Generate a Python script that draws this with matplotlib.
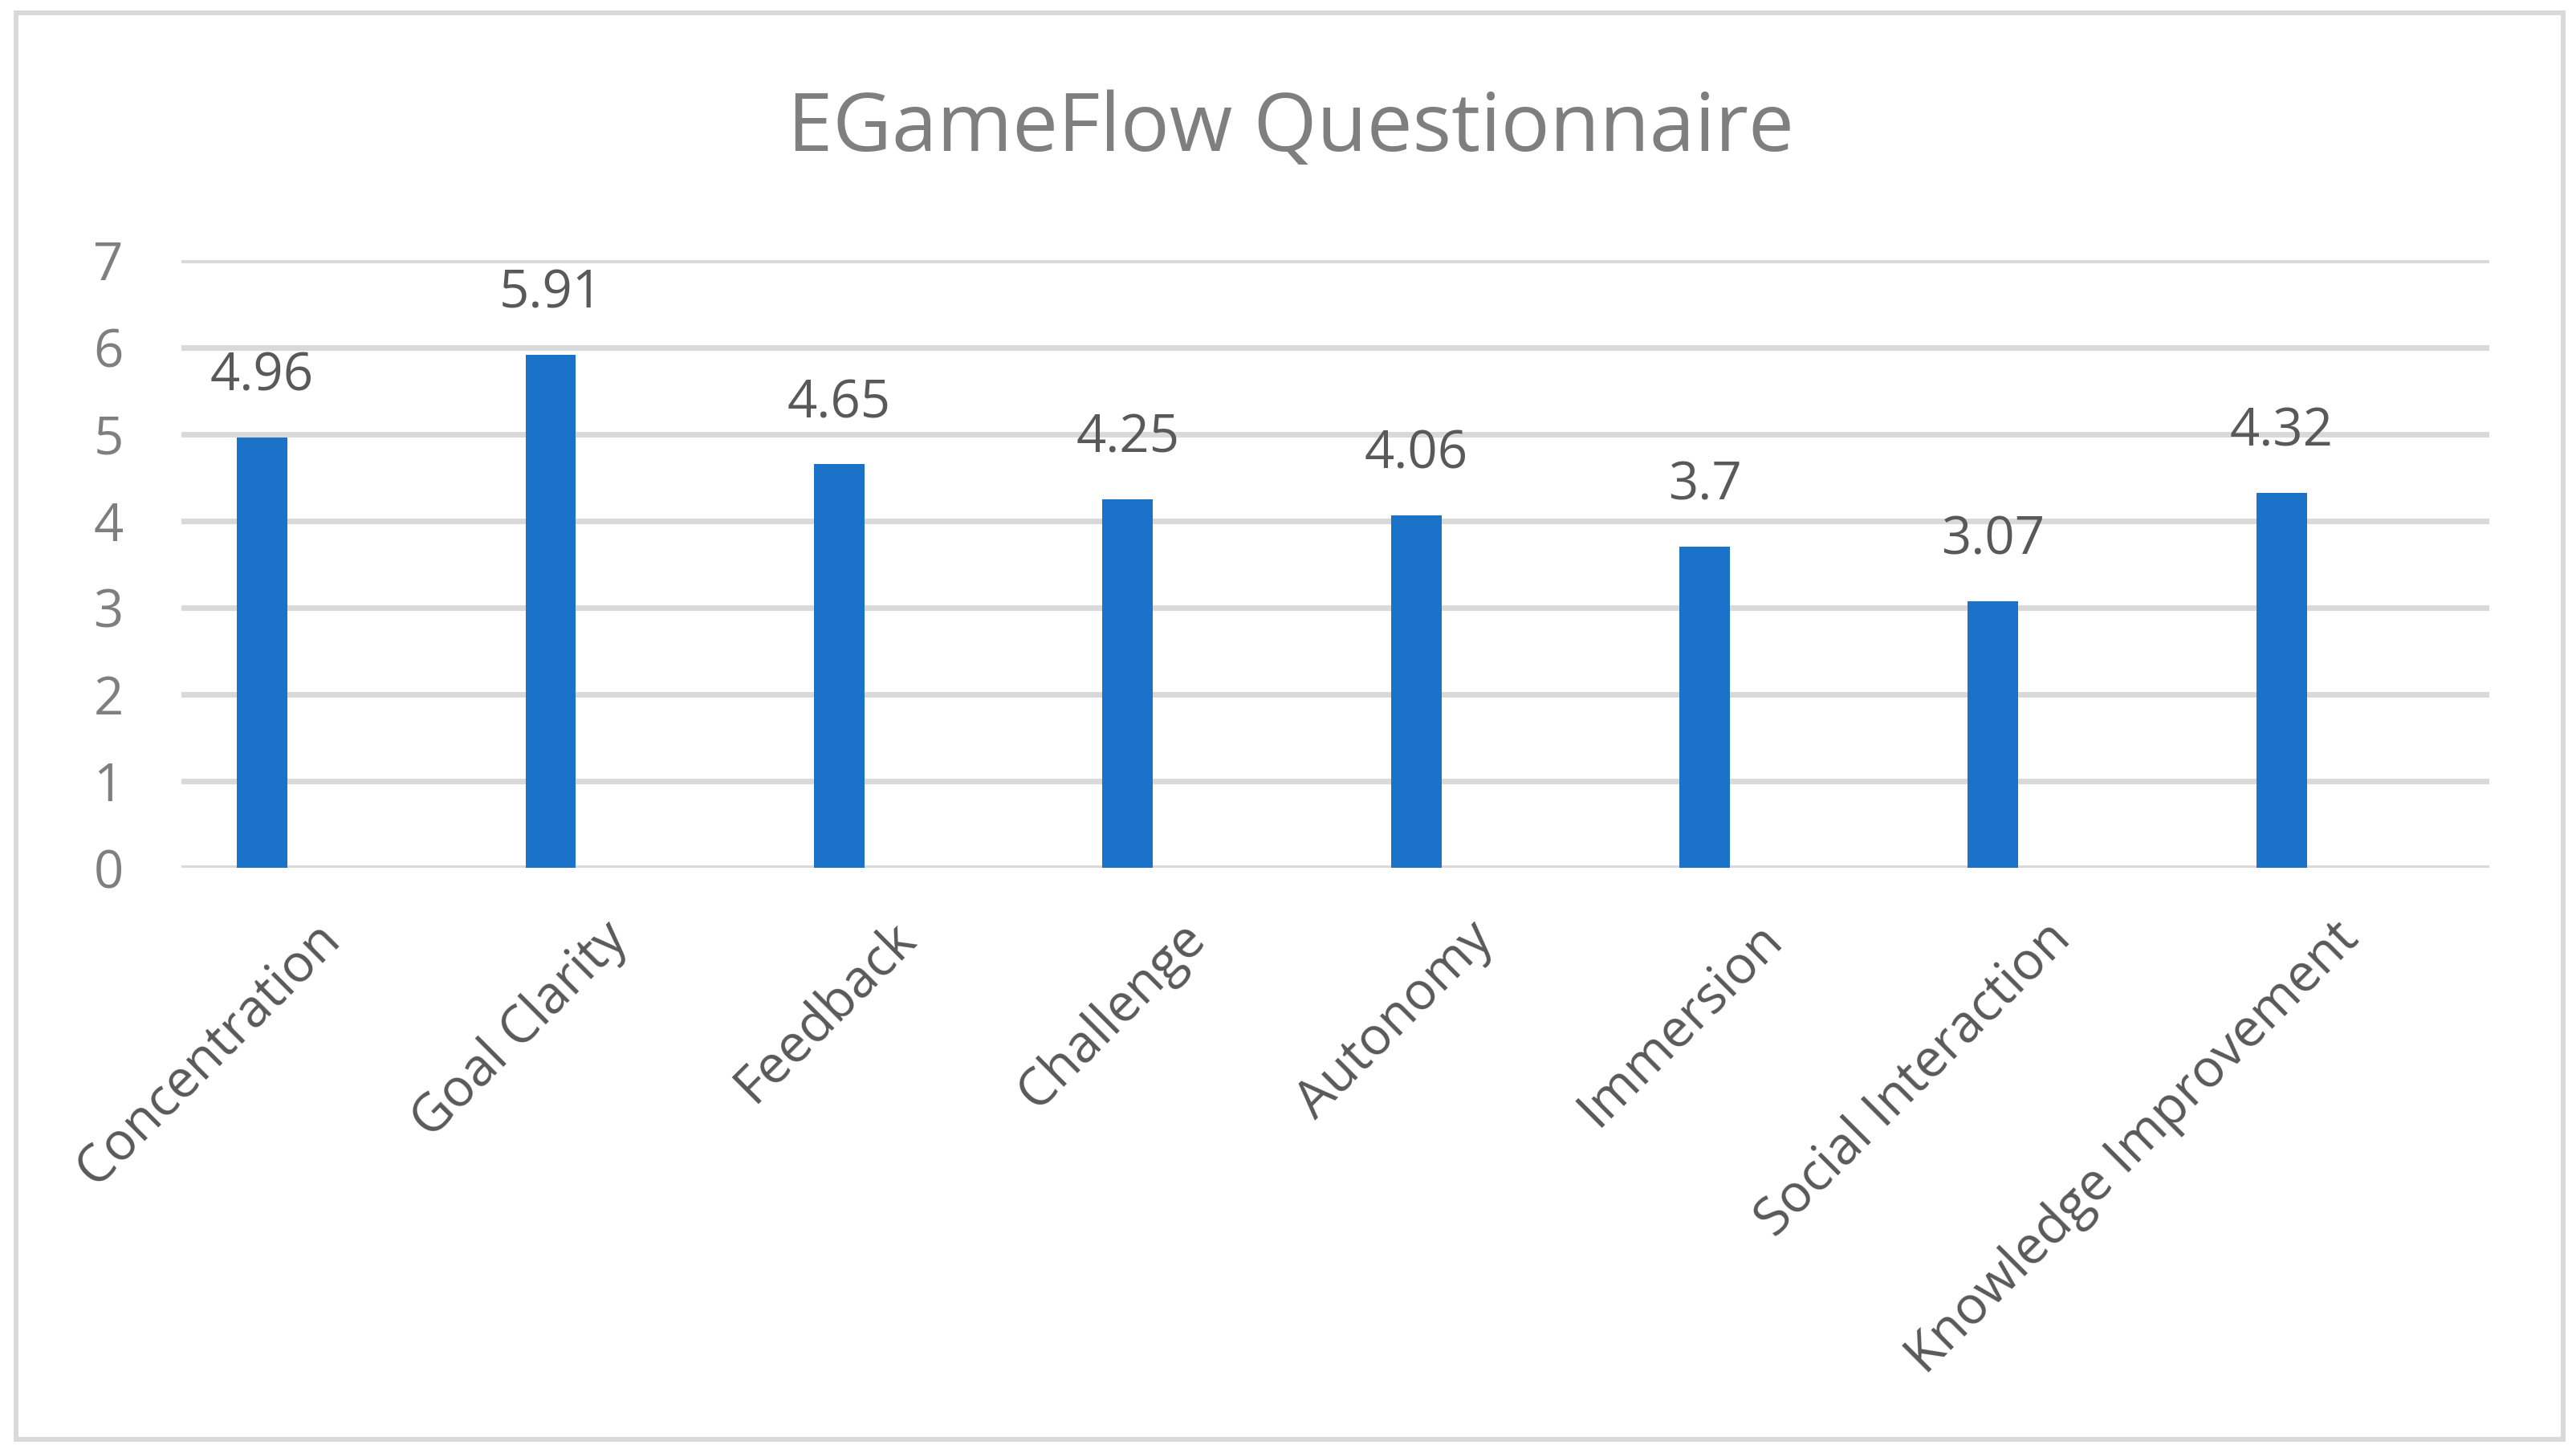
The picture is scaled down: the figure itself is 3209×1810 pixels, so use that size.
import matplotlib
matplotlib.use("Agg")
import matplotlib.pyplot as plt
from matplotlib.patches import Rectangle
from matplotlib.transforms import ScaledTranslation
import numpy as np

# data
categories = ["Concentration", "Goal Clarity", "Feedback", "Challenge",
              "Autonomy", "Immersion", "Social Interaction", "Knowledge Improvement"]
scores = [4.96, 5.91, 4.65, 4.25, 4.06, 3.7, 3.07, 4.32]
y_ticks = [0, 1, 2, 3, 4, 5, 6, 7]

BAR_COLOR = "#1a73c9"
GRID_COLOR = "#d9d9d9"
DARK_TEXT = "#595959"
LIGHT_TEXT = "#7f7f7f"

plt.rcParams["font.family"] = ["Open Sans", "DejaVu Sans"]

fig = plt.figure(figsize=(32.09, 18.10), dpi=100)
ax = fig.add_axes([0.07043, 0.40276, 0.89592, 0.41796])

x = np.arange(len(categories))
bar_offset = -0.22  # bars sit left of the category centre, like the Excel original
ax.bar(x + bar_offset, scores, width=0.175, color=BAR_COLOR, zorder=3)

# value labels above each bar
for xi, v in zip(x, scores):
    ax.annotate(f"{v:g}", (xi + bar_offset, v), xytext=(0, 42), textcoords="offset points",
                ha="center", va="baseline", fontsize=47, color=DARK_TEXT)

ax.set_xlim(-0.5, len(categories) - 0.5)
ax.set_ylim(0, 7)
ax.set_yticks(y_ticks)
ax.set_yticklabels([str(t) for t in y_ticks], fontsize=47, color=LIGHT_TEXT)
ax.set_xticks(x)
ax.set_xticklabels(categories, rotation=45, ha="right", rotation_mode="anchor",
                   fontsize=47, color=DARK_TEXT)
ax.tick_params(axis="both", length=0)
ax.tick_params(axis="y", pad=52)
ax.tick_params(axis="x", pad=40)

# nudge rotated category labels a bit to the left
shift = ScaledTranslation(-0.16, 0, fig.dpi_scale_trans)
for lbl in ax.get_xticklabels():
    lbl.set_transform(lbl.get_transform() + shift)

ax.yaxis.grid(True, color=GRID_COLOR, linewidth=5, zorder=0)
ax.set_axisbelow(True)
for s in ax.spines.values():
    s.set_visible(False)

fig.text(0.5011, 0.8961, "EGameFlow Questionnaire", ha="center", va="baseline",
         fontsize=73, color=LIGHT_TEXT)

# light grey frame around the whole chart
fig.patches.append(Rectangle((0.00623, 0.00912), 0.98863, 0.98177, transform=fig.transFigure,
                             fill=False, edgecolor=GRID_COLOR, linewidth=4.3))

fig.savefig("out.png", dpi=100, facecolor="white")
